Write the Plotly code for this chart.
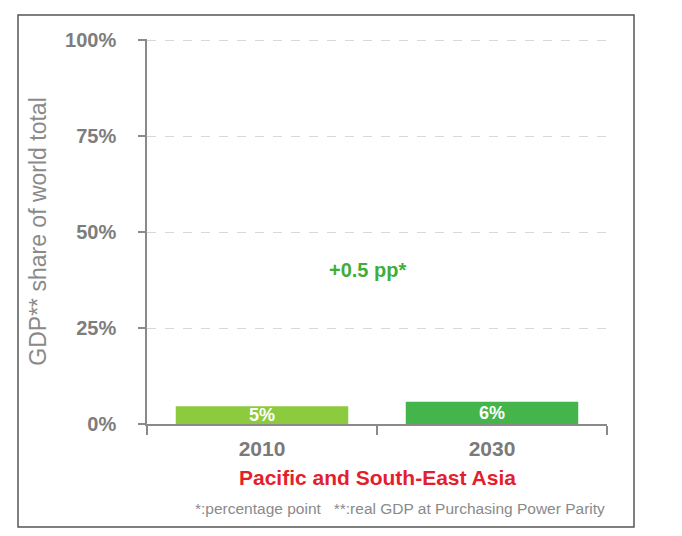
import plotly.graph_objects as go

categories = ["2010", "2030"]
values = [4.6, 5.8]
bar_labels = ["5%", "6%"]
bar_colors = ["#8cca3e", "#43b54a"]
y_ticks = [0, 25, 50, 75, 100]
y_tick_labels = ["0%", "25%", "50%", "75%", "100%"]

FONT = "Liberation Sans, Arial, Helvetica, sans-serif"

fig = go.Figure()
fig.add_trace(go.Bar(
    x=categories, y=values, marker_color=bar_colors, marker_line_width=0,
    text=bar_labels, textposition="inside", insidetextanchor="middle",
    constraintext="none",
    textfont=dict(family=FONT, size=18, color="white", weight="bold"),
    hoverinfo="skip",
))

W, H = 682, 536
L, R, T, B = 147, 75, 39, 112
pw, ph = W - L - R, H - T - B

def px_x(p):
    return (p - L) / pw

def px_y(p):
    return (H - B - p) / ph

fig.update_layout(
    width=W, height=H,
    margin=dict(l=L, r=R, t=T, b=B),
    paper_bgcolor="white", plot_bgcolor="white",
    bargap=0.25, showlegend=False,
    font=dict(family=FONT),
    xaxis=dict(
        type="category", tickson="boundaries", ticks="outside", ticklen=9,
        tickcolor="#8a8a8a", tickwidth=1.5,
        showline=True, linecolor="#8a8a8a", linewidth=1.5,
        showgrid=False, range=[-0.5, 1.5], ticklabelstandoff=5,
        tickfont=dict(family=FONT, size=21, color="#7a7a7a", weight="bold"),
    ),
    yaxis=dict(
        range=[0, 100.3], tickvals=y_ticks, ticktext=y_tick_labels,
        ticks="outside", ticklen=7, tickcolor="#8a8a8a", tickwidth=1.5,
        showline=True, linecolor="#8a8a8a", linewidth=1.5,
        showgrid=True, gridcolor="#d8d8d8", griddash="dash", gridwidth=1,
        zeroline=False, ticklabelstandoff=18,
        tickfont=dict(family=FONT, size=20, color="#7d7d7d", weight="bold"),
        title=dict(text="GDP** share of world total", standoff=12,
                   font=dict(family=FONT, size=23, color="#8a8a8a")),
    ),
    annotations=[
        dict(text="+0.5 pp*", xref="paper", yref="paper", x=px_x(367), y=px_y(270),
             xanchor="center", yanchor="middle",
             showarrow=False, font=dict(family=FONT, size=20, color="#3fae38", weight="bold")),
        dict(text="Pacific and South-East Asia", xref="paper", yref="paper",
             x=px_x(377), y=px_y(477), xanchor="center", yanchor="middle", showarrow=False,
             font=dict(family=FONT, size=21, color="#e41e2b", weight="bold")),
        dict(text="*:percentage point   **:real GDP at Purchasing Power Parity",
             xref="paper", yref="paper", x=px_x(607), y=px_y(508),
             xanchor="right", yanchor="middle",
             showarrow=False, font=dict(family=FONT, size=15.5, color="#8a8a8a")),
    ],
    shapes=[
        dict(type="rect", xref="paper", yref="paper",
             x0=px_x(18), x1=px_x(634), y0=px_y(527), y1=px_y(15),
             line=dict(color="#555555", width=1.5), fillcolor="rgba(0,0,0,0)", layer="below"),
    ],
)

fig.write_html("out.html")
